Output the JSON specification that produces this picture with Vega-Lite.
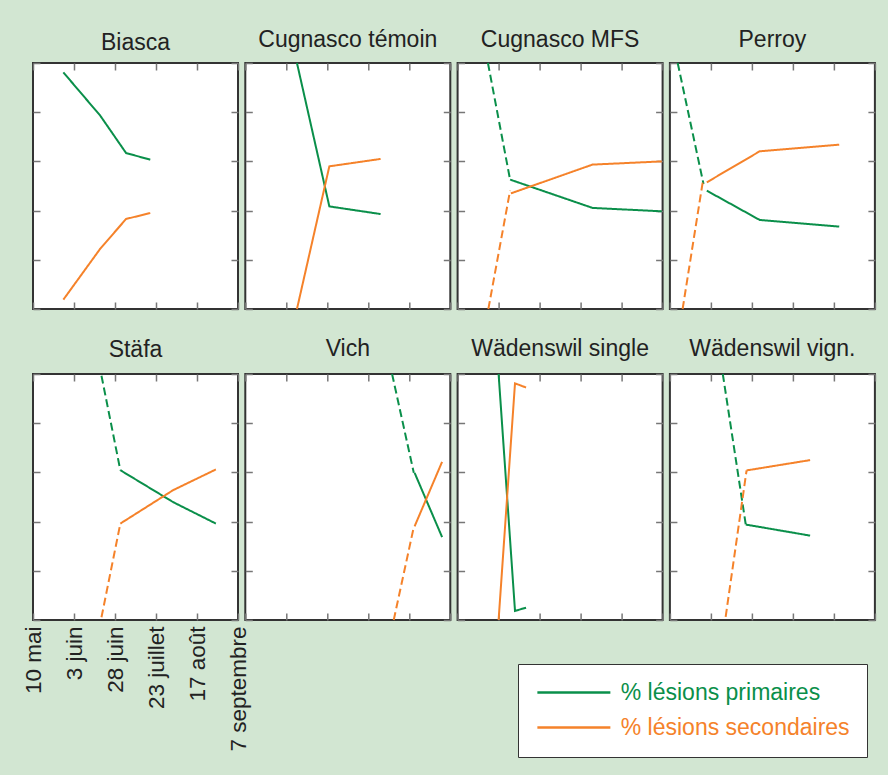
{
  "$schema": "https://vega.github.io/schema/vega-lite/v6.json",
  "background": "#d2e6d2",
  "padding": {"left": 21, "top": 28, "right": 13, "bottom": 20},
  "autosize": {"type": "pad"},
  "bounds": "flush",
  "data": {"values": [
    {"site":"Biasca","series":"% lésions primaires","seg":"solid","x":0.74,"y":96.2},
    {"site":"Biasca","series":"% lésions primaires","seg":"solid","x":1.64,"y":78.6},
    {"site":"Biasca","series":"% lésions primaires","seg":"solid","x":2.27,"y":63.4},
    {"site":"Biasca","series":"% lésions primaires","seg":"solid","x":2.86,"y":60.7},
    {"site":"Biasca","series":"% lésions secondaires","seg":"solid","x":0.74,"y":3.8},
    {"site":"Biasca","series":"% lésions secondaires","seg":"solid","x":1.64,"y":24.5},
    {"site":"Biasca","series":"% lésions secondaires","seg":"solid","x":2.27,"y":36.6},
    {"site":"Biasca","series":"% lésions secondaires","seg":"solid","x":2.86,"y":39.0},

    {"site":"Cugnasco témoin","series":"% lésions primaires","seg":"solid","x":1.26,"y":100},
    {"site":"Cugnasco témoin","series":"% lésions primaires","seg":"solid","x":2.05,"y":41.7},
    {"site":"Cugnasco témoin","series":"% lésions primaires","seg":"solid","x":3.30,"y":38.6},
    {"site":"Cugnasco témoin","series":"% lésions secondaires","seg":"solid","x":1.26,"y":0},
    {"site":"Cugnasco témoin","series":"% lésions secondaires","seg":"solid","x":2.05,"y":58.0},
    {"site":"Cugnasco témoin","series":"% lésions secondaires","seg":"solid","x":3.30,"y":61.0},

    {"site":"Cugnasco MFS","series":"% lésions primaires","seg":"dashed","x":0.74,"y":100},
    {"site":"Cugnasco MFS","series":"% lésions primaires","seg":"dashed","x":1.28,"y":52.6},
    {"site":"Cugnasco MFS","series":"% lésions primaires","seg":"solid","x":1.28,"y":52.6},
    {"site":"Cugnasco MFS","series":"% lésions primaires","seg":"solid","x":3.29,"y":41.1},
    {"site":"Cugnasco MFS","series":"% lésions primaires","seg":"solid","x":4.98,"y":39.7},
    {"site":"Cugnasco MFS","series":"% lésions secondaires","seg":"dashed","x":0.75,"y":0},
    {"site":"Cugnasco MFS","series":"% lésions secondaires","seg":"dashed","x":1.28,"y":48.1},
    {"site":"Cugnasco MFS","series":"% lésions secondaires","seg":"solid","x":1.30,"y":47.0},
    {"site":"Cugnasco MFS","series":"% lésions secondaires","seg":"solid","x":3.29,"y":58.7},
    {"site":"Cugnasco MFS","series":"% lésions secondaires","seg":"solid","x":4.98,"y":60.0},

    {"site":"Perroy","series":"% lésions primaires","seg":"dashed","x":0.19,"y":100},
    {"site":"Perroy","series":"% lésions primaires","seg":"dashed","x":0.82,"y":50.8},
    {"site":"Perroy","series":"% lésions primaires","seg":"solid","x":0.90,"y":48.1},
    {"site":"Perroy","series":"% lésions primaires","seg":"solid","x":2.19,"y":36.2},
    {"site":"Perroy","series":"% lésions primaires","seg":"solid","x":4.13,"y":33.5},
    {"site":"Perroy","series":"% lésions secondaires","seg":"dashed","x":0.31,"y":0},
    {"site":"Perroy","series":"% lésions secondaires","seg":"dashed","x":0.80,"y":51.5},
    {"site":"Perroy","series":"% lésions secondaires","seg":"solid","x":0.90,"y":51.5},
    {"site":"Perroy","series":"% lésions secondaires","seg":"solid","x":2.19,"y":64.1},
    {"site":"Perroy","series":"% lésions secondaires","seg":"solid","x":4.13,"y":66.8},

    {"site":"Stäfa","series":"% lésions primaires","seg":"dashed","x":1.67,"y":99.3},
    {"site":"Stäfa","series":"% lésions primaires","seg":"dashed","x":2.13,"y":60.9},
    {"site":"Stäfa","series":"% lésions primaires","seg":"solid","x":2.13,"y":60.9},
    {"site":"Stäfa","series":"% lésions primaires","seg":"solid","x":3.42,"y":47.9},
    {"site":"Stäfa","series":"% lésions primaires","seg":"solid","x":4.46,"y":39.2},
    {"site":"Stäfa","series":"% lésions secondaires","seg":"dashed","x":1.67,"y":1.1},
    {"site":"Stäfa","series":"% lésions secondaires","seg":"dashed","x":2.13,"y":39.2},
    {"site":"Stäfa","series":"% lésions secondaires","seg":"solid","x":2.13,"y":39.2},
    {"site":"Stäfa","series":"% lésions secondaires","seg":"solid","x":3.42,"y":52.8},
    {"site":"Stäfa","series":"% lésions secondaires","seg":"solid","x":4.46,"y":61.2},

    {"site":"Vich","series":"% lésions primaires","seg":"dashed","x":3.58,"y":100},
    {"site":"Vich","series":"% lésions primaires","seg":"dashed","x":4.11,"y":59.8},
    {"site":"Vich","series":"% lésions primaires","seg":"solid","x":4.13,"y":59.8},
    {"site":"Vich","series":"% lésions primaires","seg":"solid","x":4.80,"y":33.7},
    {"site":"Vich","series":"% lésions secondaires","seg":"dashed","x":3.62,"y":0},
    {"site":"Vich","series":"% lésions secondaires","seg":"dashed","x":4.11,"y":37.8},
    {"site":"Vich","series":"% lésions secondaires","seg":"solid","x":4.13,"y":38.1},
    {"site":"Vich","series":"% lésions secondaires","seg":"solid","x":4.80,"y":64.3},

    {"site":"Wädenswil single","series":"% lésions primaires","seg":"solid","x":1.0,"y":100},
    {"site":"Wädenswil single","series":"% lésions primaires","seg":"solid","x":1.40,"y":3.7},
    {"site":"Wädenswil single","series":"% lésions primaires","seg":"solid","x":1.67,"y":5.0},
    {"site":"Wädenswil single","series":"% lésions secondaires","seg":"solid","x":1.0,"y":0},
    {"site":"Wädenswil single","series":"% lésions secondaires","seg":"solid","x":1.40,"y":96.2},
    {"site":"Wädenswil single","series":"% lésions secondaires","seg":"solid","x":1.67,"y":94.5},

    {"site":"Wädenswil vign.","series":"% lésions primaires","seg":"dashed","x":1.29,"y":100},
    {"site":"Wädenswil vign.","series":"% lésions primaires","seg":"dashed","x":1.85,"y":38.8},
    {"site":"Wädenswil vign.","series":"% lésions primaires","seg":"solid","x":1.85,"y":38.8},
    {"site":"Wädenswil vign.","series":"% lésions primaires","seg":"solid","x":3.42,"y":34.3},
    {"site":"Wädenswil vign.","series":"% lésions secondaires","seg":"dashed","x":1.36,"y":1.3},
    {"site":"Wädenswil vign.","series":"% lésions secondaires","seg":"dashed","x":1.87,"y":60.8},
    {"site":"Wädenswil vign.","series":"% lésions secondaires","seg":"solid","x":1.87,"y":60.8},
    {"site":"Wädenswil vign.","series":"% lésions secondaires","seg":"solid","x":3.42,"y":65.0}
  ]},
  "columns": 4,
  "spacing": {"row": 65, "column": 7.3},
  "concat": [
    {"title":{"text":"Biasca","offset":7},"width":205,"height":246,"transform":[{"filter":"datum.site === 'Biasca'"}],
     "layer":[
      {"mark":{"type":"line","strokeWidth":2},"encoding":{
        "x":{"field":"x","type":"quantitative","scale":{"domain":[0,5],"nice":false},"axis":{"orient":"bottom","title":null}},
        "y":{"field":"y","type":"quantitative","scale":{"domain":[0,100],"nice":false},"axis":{"orient":"left","title":null}},
        "color":{"field":"series","type":"nominal","title":null,"scale":{"domain":["% lésions primaires","% lésions secondaires"],"range":["#0a8f4a","#f5822a"]},"legend":{"title":null,"encode":{"labels":{"update":{"fill":{"signal":"datum.value === '% lésions primaires' ? '#0a8f4a' : '#f5822a'"}}}}}},
        "strokeDash":{"field":"seg","type":"nominal","scale":{"domain":["solid","dashed"],"range":[[1,0],[8,4]]},"legend":null}}},
      {"mark":{"type":"point","opacity":0},"encoding":{
        "x":{"field":"x","type":"quantitative","axis":{"orient":"top","title":null}},
        "y":{"field":"y","type":"quantitative","axis":{"orient":"right","title":null}}}}
     ],"resolve":{"axis":{"x":"independent","y":"independent"}}},
    {"title":{"text":"Cugnasco témoin","offset":7},"width":205,"height":246,"transform":[{"filter":"datum.site === 'Cugnasco témoin'"}],
     "layer":[
      {"mark":{"type":"line","strokeWidth":2},"encoding":{
        "x":{"field":"x","type":"quantitative","scale":{"domain":[0,5],"nice":false},"axis":{"orient":"bottom","title":null}},
        "y":{"field":"y","type":"quantitative","scale":{"domain":[0,100],"nice":false},"axis":{"orient":"left","title":null}},
        "color":{"field":"series","type":"nominal","title":null},
        "strokeDash":{"field":"seg","type":"nominal","legend":null}}},
      {"mark":{"type":"point","opacity":0},"encoding":{
        "x":{"field":"x","type":"quantitative","axis":{"orient":"top","title":null}},
        "y":{"field":"y","type":"quantitative","axis":{"orient":"right","title":null}}}}
     ],"resolve":{"axis":{"x":"independent","y":"independent"}}},
    {"title":{"text":"Cugnasco MFS","offset":7},"width":205,"height":246,"transform":[{"filter":"datum.site === 'Cugnasco MFS'"}],
     "layer":[
      {"mark":{"type":"line","strokeWidth":2},"encoding":{
        "x":{"field":"x","type":"quantitative","scale":{"domain":[0,5],"nice":false},"axis":{"orient":"bottom","title":null}},
        "y":{"field":"y","type":"quantitative","scale":{"domain":[0,100],"nice":false},"axis":{"orient":"left","title":null}},
        "color":{"field":"series","type":"nominal","title":null},
        "strokeDash":{"field":"seg","type":"nominal","legend":null}}},
      {"mark":{"type":"point","opacity":0},"encoding":{
        "x":{"field":"x","type":"quantitative","axis":{"orient":"top","title":null}},
        "y":{"field":"y","type":"quantitative","axis":{"orient":"right","title":null}}}}
     ],"resolve":{"axis":{"x":"independent","y":"independent"}}},
    {"title":{"text":"Perroy","offset":7},"width":205,"height":246,"transform":[{"filter":"datum.site === 'Perroy'"}],
     "layer":[
      {"mark":{"type":"line","strokeWidth":2},"encoding":{
        "x":{"field":"x","type":"quantitative","scale":{"domain":[0,5],"nice":false},"axis":{"orient":"bottom","title":null}},
        "y":{"field":"y","type":"quantitative","scale":{"domain":[0,100],"nice":false},"axis":{"orient":"left","title":null}},
        "color":{"field":"series","type":"nominal","title":null},
        "strokeDash":{"field":"seg","type":"nominal","legend":null}}},
      {"mark":{"type":"point","opacity":0},"encoding":{
        "x":{"field":"x","type":"quantitative","axis":{"orient":"top","title":null}},
        "y":{"field":"y","type":"quantitative","axis":{"orient":"right","title":null}}}}
     ],"resolve":{"axis":{"x":"independent","y":"independent"}}},
    {"title":{"text":"Stäfa","offset":9.5},"width":205,"height":246,"transform":[{"filter":"datum.site === 'Stäfa'"}],
     "layer":[
      {"mark":{"type":"line","strokeWidth":2},"encoding":{
        "x":{"field":"x","type":"quantitative","scale":{"domain":[0,5],"nice":false},"axis":{"orient":"bottom","title":null,"labels":true,"labelAngle":-90,"labelAlign":"right","labelBaseline":"middle","labelPadding":13,"labelFontSize":22.5,"labelFlush":false,"labelOverlap":false,"labelExpr":"['10 mai','3 juin','28 juin','23 juillet','17 août','7 septembre'][datum.value]"}},
        "y":{"field":"y","type":"quantitative","scale":{"domain":[0,100],"nice":false},"axis":{"orient":"left","title":null}},
        "color":{"field":"series","type":"nominal","title":null},
        "strokeDash":{"field":"seg","type":"nominal","legend":null}}},
      {"mark":{"type":"point","opacity":0},"encoding":{
        "x":{"field":"x","type":"quantitative","axis":{"orient":"top","title":null}},
        "y":{"field":"y","type":"quantitative","axis":{"orient":"right","title":null}}}}
     ],"resolve":{"axis":{"x":"independent","y":"independent"}}},
    {"title":{"text":"Vich","offset":9.5},"width":205,"height":246,"transform":[{"filter":"datum.site === 'Vich'"}],
     "layer":[
      {"mark":{"type":"line","strokeWidth":2},"encoding":{
        "x":{"field":"x","type":"quantitative","scale":{"domain":[0,5],"nice":false},"axis":{"orient":"bottom","title":null}},
        "y":{"field":"y","type":"quantitative","scale":{"domain":[0,100],"nice":false},"axis":{"orient":"left","title":null}},
        "color":{"field":"series","type":"nominal","title":null},
        "strokeDash":{"field":"seg","type":"nominal","legend":null}}},
      {"mark":{"type":"point","opacity":0},"encoding":{
        "x":{"field":"x","type":"quantitative","axis":{"orient":"top","title":null}},
        "y":{"field":"y","type":"quantitative","axis":{"orient":"right","title":null}}}}
     ],"resolve":{"axis":{"x":"independent","y":"independent"}}},
    {"title":{"text":"Wädenswil single","offset":9.5},"width":205,"height":246,"transform":[{"filter":"datum.site === 'Wädenswil single'"}],
     "layer":[
      {"mark":{"type":"line","strokeWidth":2},"encoding":{
        "x":{"field":"x","type":"quantitative","scale":{"domain":[0,5],"nice":false},"axis":{"orient":"bottom","title":null}},
        "y":{"field":"y","type":"quantitative","scale":{"domain":[0,100],"nice":false},"axis":{"orient":"left","title":null}},
        "color":{"field":"series","type":"nominal","title":null},
        "strokeDash":{"field":"seg","type":"nominal","legend":null}}},
      {"mark":{"type":"point","opacity":0},"encoding":{
        "x":{"field":"x","type":"quantitative","axis":{"orient":"top","title":null}},
        "y":{"field":"y","type":"quantitative","axis":{"orient":"right","title":null}}}}
     ],"resolve":{"axis":{"x":"independent","y":"independent"}}},
    {"title":{"text":"Wädenswil vign.","offset":9.5},"width":205,"height":246,"transform":[{"filter":"datum.site === 'Wädenswil vign.'"}],
     "layer":[
      {"mark":{"type":"line","strokeWidth":2},"encoding":{
        "x":{"field":"x","type":"quantitative","scale":{"domain":[0,5],"nice":false},"axis":{"orient":"bottom","title":null}},
        "y":{"field":"y","type":"quantitative","scale":{"domain":[0,100],"nice":false},"axis":{"orient":"left","title":null}},
        "color":{"field":"series","type":"nominal","title":null},
        "strokeDash":{"field":"seg","type":"nominal","legend":null}}},
      {"mark":{"type":"point","opacity":0},"encoding":{
        "x":{"field":"x","type":"quantitative","axis":{"orient":"top","title":null}},
        "y":{"field":"y","type":"quantitative","axis":{"orient":"right","title":null}}}}
     ],"resolve":{"axis":{"x":"independent","y":"independent"}}}
  ],
  "config": {
    "font": "Liberation Sans",
    "view": {"stroke": "#333333", "strokeWidth": 2, "fill": "white"},
    "axis": {"domain": false, "grid": false, "tickSize": -7, "tickColor": "#777777", "tickWidth": 1.5, "labels": false, "tickCount": 5, "labelFont": "Liberation Sans", "labelFontSize": 22, "labelColor": "#222222"},
    "title": {"fontSize": 23, "fontWeight": "normal", "color": "#222222", "font": "Liberation Sans"},
    "legend": {"orient": "none", "legendX": 485, "legendY": 601, "fillColor": "white", "strokeColor": "#333333", "padding": 17, "labelFontSize": 23, "labelFont": "Liberation Sans", "symbolType": "M-1,0H7", "symbolSize": 333, "symbolStrokeWidth": 2.5, "rowPadding": 11, "labelOffset": 62.75, "labelLimit": 400}
  }
}
